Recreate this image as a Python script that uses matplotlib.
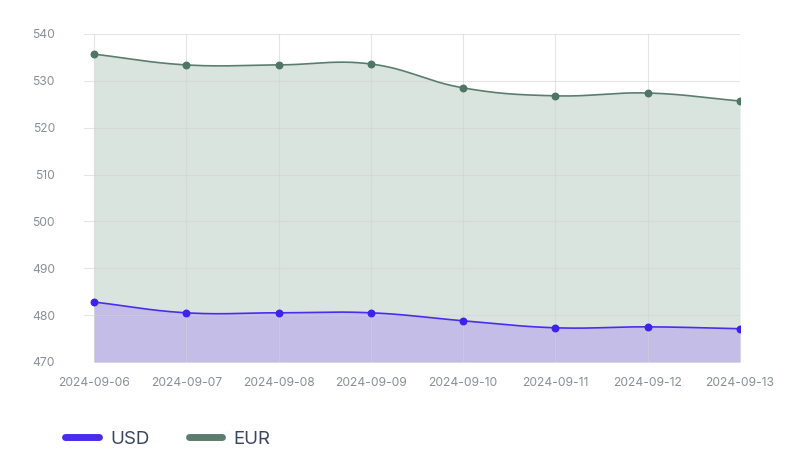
import numpy as np
import matplotlib
matplotlib.use("Agg")
import matplotlib.pyplot as plt
from matplotlib.lines import Line2D

dates = ["2024-09-06", "2024-09-07", "2024-09-08", "2024-09-09",
         "2024-09-10", "2024-09-11", "2024-09-12", "2024-09-13"]
usd = [482.8, 480.5, 480.5, 480.5, 478.8, 477.3, 477.5, 477.1]
eur = [535.7, 533.4, 533.4, 533.6, 528.5, 526.8, 527.4, 525.7]
yticks = [470, 480, 490, 500, 510, 520, 530, 540]

plt.rcParams['font.family'] = ['Inter', 'DejaVu Sans']

SX, SY = 92.3, 4.686  # pixels per x unit / y unit, for curve smoothing


def smooth(x, y, tension=0.4, n=40):
    # cardinal (Chart.js style) Bezier smoothing, computed in pixel space
    px = np.asarray(x, float) * SX
    py = np.asarray(y, float) * SY
    N = len(px)
    cpp = np.zeros((N, 2)); cpn = np.zeros((N, 2))
    for i in range(N):
        prev = np.array([px[max(i - 1, 0)], py[max(i - 1, 0)]])
        cur = np.array([px[i], py[i]])
        nxt = np.array([px[min(i + 1, N - 1)], py[min(i + 1, N - 1)]])
        d01 = np.hypot(*(cur - prev)); d12 = np.hypot(*(nxt - cur))
        tot = d01 + d12
        s01 = d01 / tot if tot else 0
        s12 = d12 / tot if tot else 0
        cpp[i] = cur - tension * s01 * (nxt - prev)
        cpn[i] = cur + tension * s12 * (nxt - prev)
    xs, ys = [], []
    for i in range(N - 1):
        t = np.linspace(0, 1, n, endpoint=(i == N - 2))[:, None]
        p0 = np.array([px[i], py[i]]); p3 = np.array([px[i + 1], py[i + 1]])
        p1 = cpn[i]; p2 = cpp[i + 1]
        b = ((1 - t)**3) * p0 + 3 * ((1 - t)**2) * t * p1 + 3 * (1 - t) * t**2 * p2 + t**3 * p3
        xs.append(b[:, 0] / SX); ys.append(b[:, 1] / SY)
    return np.concatenate(xs), np.concatenate(ys)


fig = plt.figure(figsize=(8, 4.74), dpi=100)
ax = fig.add_axes([0.105, 0.2363, 0.82, 0.6920])

x = np.arange(len(dates))
ymin = 470

eur_c = "#5b7d6e"
usd_c = "#4a2cf0"

xe, ye = smooth(x, eur)
xu, yu = smooth(x, usd)

ax.fill_between(xe, ye, ymin, color="#d9e4df", zorder=1, lw=0)
ax.fill_between(xu, yu, ymin, color="#c3bde7", zorder=2, lw=0)
ax.plot(xe, ye, color=eur_c, lw=1.2, zorder=4)
ax.plot(xu, yu, color=usd_c, lw=1.2, zorder=4)
ax.scatter(x, eur, s=22, color="#4f7565", zorder=5)
ax.scatter(x, usd, s=22, color="#3d22ea", zorder=5)

ax.set_xlim(-0.108, len(dates) - 1)
ax.set_ylim(470, 540)
ax.set_yticks(yticks)
ax.set_xticks(x)
ax.set_xticklabels(dates)
ax.grid(True, color="#cfd3d3", lw=0.8, alpha=0.55, zorder=3)
ax.set_axisbelow(False)
for s in ax.spines.values():
    s.set_visible(False)
ax.tick_params(axis='both', length=0, colors="#8a8e96", labelsize=8.7)
ax.tick_params(axis='y', pad=21)
ax.tick_params(axis='x', pad=11)

handles = [Line2D([0], [0], color=usd_c, lw=5, solid_capstyle='round'),
           Line2D([0], [0], color="#5b7d6e", lw=5, solid_capstyle='round')]
leg = fig.legend(handles, ["USD", "EUR"], loc='center left',
                 bbox_to_anchor=(0.060, 0.073), ncol=2, frameon=False,
                 fontsize=13.5, handlelength=1.8, handletextpad=0.6,
                 columnspacing=2.1, labelcolor="#3b4660")

fig.savefig("out.png", dpi=100)
